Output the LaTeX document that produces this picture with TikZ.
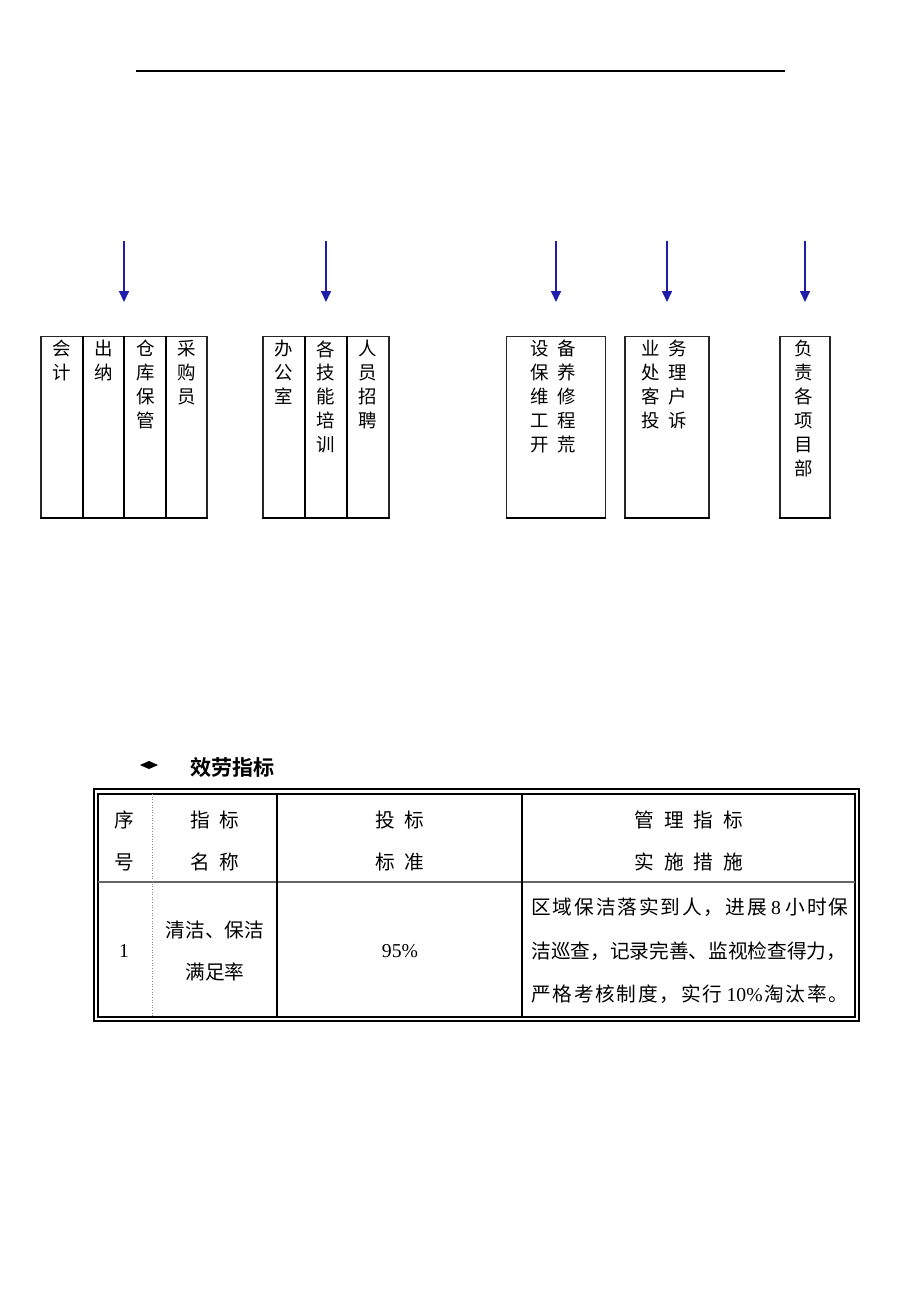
\documentclass[tikz,border=0pt]{standalone}
\usepackage{fontspec}
\setmainfont{Liberation Serif}
\newfontfamily\cjk{Noto Sans CJK SC}[BoldFont={* Bold}]
\usetikzlibrary{arrows.meta}
\definecolor{arrowblue}{RGB}{30,30,170}
\newcommand\numtxt[1]{{\rmfamily #1}}
\newcommand\gp{\hspace{0pt plus 1fil}}
\tikzset{
	orgbox/.style={draw=black!85, line width=0.6pt, inner sep=0pt, anchor=north},
	boxtext/.style={font=\cjk\fontsize{10.5}{13.6}\selectfont, align=center, anchor=north, inner sep=0pt},
	downarrow/.style={draw=arrowblue, line width=0.9pt, -{Triangle[width=0.2cm,length=0.22cm]}, shorten >=0.68cm},
	celltext/.style={font=\cjk\fontsize{11.2}{23.8}\selectfont, align=center, inner sep=0pt},
	rowtext/.style={font=\cjk\fontsize{11.2}{13}\selectfont, anchor=west, inner sep=0pt},
}
\begin{document}
\begin{tikzpicture}[x=0.02cm,y=-0.02cm]
		\useasboundingbox[fill=white] (0,0) rectangle (920,1302);
		%\draw[help lines,step=50] (0,0) grid (920,1302);
		\draw[line width=1.2pt] (136,71) -- (785,71);
		% boxes under the arrows
		\node[orgbox, minimum width=3.32cm, minimum height=3.62cm] (finance) at (124,336) {};
		\node[orgbox, minimum width=2.52cm, minimum height=3.62cm] (admin) at (326,336) {};
		\node[orgbox, minimum width=1.98cm, minimum height=3.62cm] (repair) at (556,336) {};
		\node[orgbox, minimum width=1.68cm, minimum height=3.62cm] (service) at (667,336) {};
		\node[orgbox, minimum width=1.0cm, minimum height=3.62cm] (project) at (805,336) {};
		\foreach \b in {finance,admin,repair,service,project} {
			\draw[line width=1.4pt] (\b.south west) -- (\b.south east);
			\coordinate (\b top) at ([yshift=1.9cm]\b.north);
			\draw[downarrow] (\b top) -- (\b.north);
		}
		\draw[line width=1.4pt] (83,336) -- (83,517);
		\draw[line width=1.4pt] (305,336) -- (305,517);
		\foreach \x in {124,166,347} {
			\draw[line width=0.6pt] (\x,336) -- (\x,517);
		}
		\node[boxtext] (kuaiji) at (62,340) {会\\计};
		\node[boxtext] (chuna) at (104,340) {出\\纳};
		\node[boxtext] (cangku) at (146,340) {仓\\库\\保\\管};
		\node[boxtext] (caigou) at (187,340) {采\\购\\员};
		\node[boxtext] (bangong) at (284,340) {办\\公\\室};
		\node[boxtext] (peixun) at (326,340) {各\\技\\能\\培\\训};
		\node[boxtext] (zhaopin) at (368,340) {人\\员\\招\\聘};
		\node[boxtext] (shebei) at (553,340) {设\hspace{0.45em}备\\保\hspace{0.45em}养\\维\hspace{0.45em}修\\工\hspace{0.45em}程\\开\hspace{0.45em}荒};
		\node[boxtext] (yewu) at (664,340) {业\hspace{0.45em}务\\处\hspace{0.45em}理\\客\hspace{0.45em}户\\投\hspace{0.45em}诉};
		\node[boxtext] (xiangmu) at (804,340) {负\\责\\各\\项\\目\\部};
		% service index table
		\fill (140,765) -- (149,761) -- (158,765) -- (149,769) -- cycle;
		\node[font=\cjk\fontsize{12}{14}\selectfont\bfseries, anchor=west, inner sep=0pt] (title) at (190,767) {效劳指标};
		\draw[line width=0.6pt] (94,789) rectangle (859,1021);
		\draw[line width=1.5pt] (98,794) rectangle (855,1017);
		\draw[line width=0.6pt, black!60] (98,882) -- (855,882);
		\draw[line width=0.5pt, black!45, densely dotted] (152,794) -- (152,1017);
		\draw[line width=1.4pt] (277,794) -- (277,1017);
		\draw[line width=0.8pt] (522,794) -- (522,1017);
		\node[celltext] (xuhao) at (124,841) {序\\号};
		\node[celltext] (mingcheng) at (215,841) {指\hspace{0.5em}标\\名\hspace{0.5em}称};
		\node[celltext] (biaozhun) at (400,841) {投\hspace{0.5em}标\\标\hspace{0.5em}准};
		\node[celltext] (cuoshi) at (689,841) {管\hspace{0.5em}理\hspace{0.5em}指\hspace{0.5em}标\\实\hspace{0.5em}施\hspace{0.5em}措\hspace{0.5em}施};
		\node[celltext] (num) at (124,951) {\numtxt{1}};
		\node[celltext] (manzu) at (215,951) {清洁、保洁\\满足率};
		\node[celltext] (rate) at (400,951) {\numtxt{95\%}};
		\node[rowtext] (lineA) at (531,907) {\makebox[6.34cm][s]{区\gp 域\gp 保\gp 洁\gp 落\gp 实\gp 到\gp 人\gp ，\gp 进\gp 展 \numtxt{8} 小\gp 时\gp 保}};
		\node[rowtext] (lineB) at (531,951) {\makebox[6.34cm][s]{洁巡查，记录完善、监视检查得力，}};
		\node[rowtext] (lineC) at (531,994) {\makebox[6.34cm][s]{严\gp 格\gp 考\gp 核\gp 制\gp 度\gp ，\gp 实\gp 行 \numtxt{10\%}\gp 淘\gp 汰\gp 率\gp 。}};
\end{tikzpicture}
\end{document}
